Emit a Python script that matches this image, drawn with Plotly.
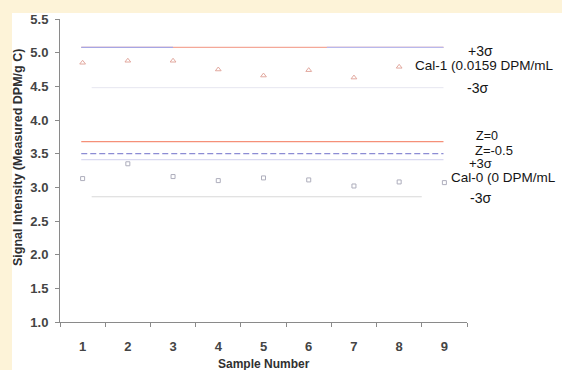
import plotly.graph_objects as go

# ---- data ----
samples_cal1 = [1, 2, 3, 4, 5, 6, 7, 8]
cal1_values = [4.85, 4.88, 4.88, 4.75, 4.66, 4.74, 4.63, 4.79]
samples_cal0 = [1, 2, 3, 4, 5, 6, 7, 8, 9]
cal0_values = [3.13, 3.35, 3.16, 3.10, 3.14, 3.11, 3.02, 3.08, 3.07]

cal1_plus3 = 5.08
cal1_minus3 = 4.48
z0_level = 3.68
z_minus05_level = 3.50
cal0_plus3 = 3.41
cal0_minus3 = 2.86

x_ticks = [1, 2, 3, 4, 5, 6, 7, 8, 9]
y_ticks = [1.0, 1.5, 2.0, 2.5, 3.0, 3.5, 4.0, 4.5, 5.0, 5.5]

FONT = "Arial, Liberation Sans, Helvetica, sans-serif"
PLOT_L, PLOT_W = 60, 407

def px_to_paper_x(px):
    return (px - PLOT_L) / PLOT_W

fig = go.Figure()

def hline(y, x0, x1, color, width=1.0, dash="solid"):
    fig.add_trace(go.Scatter(x=[x0, x1], y=[y, y], mode="lines",
                             line=dict(color=color, width=width, dash=dash),
                             hoverinfo="skip", showlegend=False))

# reference lines
hline(cal1_plus3, 0.97, 8.98, "#f4a898", width=1.3)
hline(cal1_plus3, 0.97, 3.0, "#a6a6e4", width=1.3)
hline(cal1_plus3, 6.4, 8.98, "#b8b8ec", width=1.3)
hline(cal1_minus3, 1.2, 8.98, "#e6e6f0")
hline(z0_level, 0.97, 8.98, "#f59078", width=1.3)
hline(z_minus05_level, 0.97, 8.98, "#8c8cd4", width=1.3, dash="6px,3px")
hline(cal0_plus3, 0.97, 8.98, "#d0d0ee")
hline(cal0_minus3, 1.2, 8.5, "#d8d8d8")

# data points
fig.add_trace(go.Scatter(x=samples_cal1, y=cal1_values, mode="markers",
                         marker=dict(symbol="triangle-up-open", size=5,
                                     color="#e2a89e", line=dict(width=1)),
                         showlegend=False))
fig.add_trace(go.Scatter(x=samples_cal0, y=cal0_values, mode="markers",
                         marker=dict(symbol="square-open", size=4,
                                     color="#aeaebc", line=dict(width=1)),
                         showlegend=False))

# right-side labels (x in pixels of the figure, y in data units)
labels = [
    ("+3σ", 480, 5.03, "center", 14),
    ("Cal-1 (0.0159 DPM/mL", 413, 4.81, "left", 13.5),
    ("-3σ", 477, 4.48, "center", 14),
    ("Z=0", 474, 3.765, "left", 12.5),
    ("Z=-0.5", 473, 3.54, "left", 13),
    ("+3σ", 480, 3.35, "center", 13),
    ("Cal-0 (0 DPM/mL", 449, 3.14, "left", 13.5),
    ("-3σ", 480, 2.845, "center", 14),
]
for txt, px, y, anchor, size in labels:
    fig.add_annotation(x=px_to_paper_x(px), y=y, xref="paper", yref="y", text=txt,
                       showarrow=False, xanchor=anchor, yanchor="middle",
                       font=dict(family=FONT, size=size, color="#151515"))

# axis titles
fig.add_annotation(x=px_to_paper_x(18), y=(322 - 158) / 303, xref="paper", yref="paper",
                   text="<b>Signal Intensity (Measured DPM/g C)</b>", textangle=-90,
                   showarrow=False, xanchor="center", yanchor="middle",
                   font=dict(family=FONT, size=12.5, color="#303030"))
fig.add_annotation(x=px_to_paper_x(263.5), y=(322 - 364) / 303, xref="paper", yref="paper",
                   text="<b>Sample Number</b>", showarrow=False,
                   xanchor="center", yanchor="middle",
                   font=dict(family=FONT, size=12, color="#303030"))

# white panel on cream background
fig.add_shape(type="rect", xref="paper", yref="paper",
              x0=px_to_paper_x(12), x1=px_to_paper_x(570),
              y0=(322 - 375) / 303, y1=(322 - 13) / 303,
              fillcolor="white", line=dict(width=0), layer="below")

fig.update_layout(
    width=562, height=370,
    margin=dict(l=60, r=95, t=19, b=48),
    paper_bgcolor="#fdf3d8",
    plot_bgcolor="white",
    showlegend=False,
    font=dict(family=FONT),
    xaxis=dict(range=[0.5, 9.5], tickmode="array", tickvals=x_ticks,
               ticktext=[str(v) for v in x_ticks], ticks="", showgrid=False,
               zeroline=False, showline=True, linecolor="#8a8a8a", linewidth=1,
               ticklabelstandoff=12,
               tickfont=dict(family=FONT, size=13, color="#444444", weight="bold"),
               minor=dict(ticks="outside", tick0=0.5, dtick=1, ticklen=4,
                          tickcolor="#8a8a8a", showgrid=False)),
    yaxis=dict(range=[1.0, 5.5], tickmode="array", tickvals=y_ticks,
               ticktext=[f"{v:.1f}" for v in y_ticks], ticks="outside", ticklen=4,
               tickcolor="#8a8a8a", showgrid=False, zeroline=False, showline=True,
               linecolor="#8a8a8a", linewidth=1, ticklabelstandoff=4,
               tickfont=dict(family=FONT, size=13, color="#444444", weight="bold")),
)

fig.write_html("out.html")
